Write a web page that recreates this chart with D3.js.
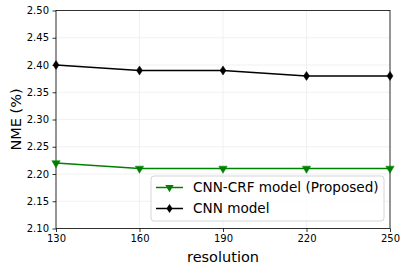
<!DOCTYPE html>
<html><head><meta charset="utf-8">
<script src="https://cdn.jsdelivr.net/npm/d3@7"></script>
<style>body{margin:0;background:#fff}svg{display:block;font-family:"DejaVu Sans",sans-serif}</style>
</head><body><svg id="c" width="407" height="271"></svg>
<script>
const resolutions = [130, 160, 190, 220, 250];
const crfValues = [2.22, 2.21, 2.21, 2.21, 2.21];
const cnnValues = [2.40, 2.39, 2.39, 2.38, 2.38];
const yTicks = [2.10, 2.15, 2.20, 2.25, 2.30, 2.35, 2.40, 2.45, 2.50];
const seriesNames = ["CNN-CRF model (Proposed)", "CNN model"];
const seriesColors = ["#008000", "#000000"];

const svg = d3.select("#c");
const L = 56, R = 390, T = 10.5, B = 228.5;
const x = d3.scaleLinear().domain([130, 250]).range([L, R]);
const y = d3.scaleLinear().domain([2.10, 2.50]).range([B, T]);

// grid
svg.append("g").selectAll("line").data(resolutions).join("line")
  .attr("x1", d => x(d)).attr("x2", d => x(d)).attr("y1", T).attr("y2", B)
  .attr("stroke", "#ededed").attr("stroke-width", 0.8);
svg.append("g").selectAll("line").data(yTicks).join("line")
  .attr("x1", L).attr("x2", R).attr("y1", d => y(d)).attr("y2", d => y(d))
  .attr("stroke", "#ededed").attr("stroke-width", 0.8);

// axes
const xa = svg.append("g").attr("transform", `translate(0,${B})`)
  .call(d3.axisBottom(x).tickValues(resolutions).tickSize(3.5).tickPadding(2.5).tickFormat(d3.format("d")));
const ya = svg.append("g").attr("transform", `translate(${L},0)`)
  .call(d3.axisLeft(y).tickValues(yTicks).tickSize(3.5).tickPadding(3.5).tickFormat(d3.format(".2f")));
[xa, ya].forEach(a => {
  a.select(".domain").remove();
  a.selectAll("text").attr("font-size", 10).attr("fill", "#000").attr("font-family", "DejaVu Sans");
  a.selectAll("line").attr("stroke", "#000").attr("stroke-width", 0.8);
});
svg.append("rect").attr("x", L).attr("y", T).attr("width", R - L).attr("height", B - T)
  .attr("fill", "none").attr("stroke", "#000").attr("stroke-width", 0.8);

const line = d3.line().x((d, i) => x(resolutions[i])).y(d => y(d));
const tri = d3.symbol().type(d3.symbolTriangle).size(30);
const diamond = "M0,-4.5L3,0L0,4.5L-3,0Z";

function drawSeries(vals, color, marker) {
  svg.append("path").datum(vals).attr("d", line).attr("fill", "none")
    .attr("stroke", color).attr("stroke-width", 1.5);
  const g = svg.append("g");
  g.selectAll("path").data(vals).join("path")
    .attr("transform", (d, i) => `translate(${x(resolutions[i])},${y(d)})` + (marker === "tri" ? " rotate(180)" : ""))
    .attr("d", marker === "tri" ? tri() : diamond)
    .attr("fill", color).attr("stroke", color).attr("stroke-width", 0.5);
}
drawSeries(crfValues, seriesColors[0], "tri");
drawSeries(cnnValues, seriesColors[1], "dia");

// legend
const lg = svg.append("g");
lg.append("rect").attr("x", 151).attr("y", 176).attr("width", 233).attr("height", 45).attr("rx", 3)
  .attr("fill", "#fff").attr("fill-opacity", 0.8).attr("stroke", "#ccc").attr("stroke-width", 0.8);
seriesNames.forEach((n, i) => {
  const yy = 187.5 + i * 21;
  lg.append("line").attr("x1", 156).attr("x2", 183).attr("y1", yy).attr("y2", yy)
    .attr("stroke", seriesColors[i]).attr("stroke-width", 1.5);
  lg.append("path").attr("transform", `translate(169.5,${yy})` + (i === 0 ? " rotate(180)" : ""))
    .attr("d", i === 0 ? tri() : diamond).attr("fill", seriesColors[i]);
  lg.append("text").attr("x", 193).attr("y", yy + 4.9).attr("font-size", 13.6).text(n);
});

// labels
svg.append("text").attr("x", (L + R) / 2).attr("y", 262).attr("text-anchor", "middle")
  .attr("font-size", 14.5).text("resolution");
svg.append("text").attr("transform", `translate(20.5,${(T + B) / 2}) rotate(-90)`).attr("text-anchor", "middle")
  .attr("font-size", 14.5).text("NME (%)");
</script></body></html>
